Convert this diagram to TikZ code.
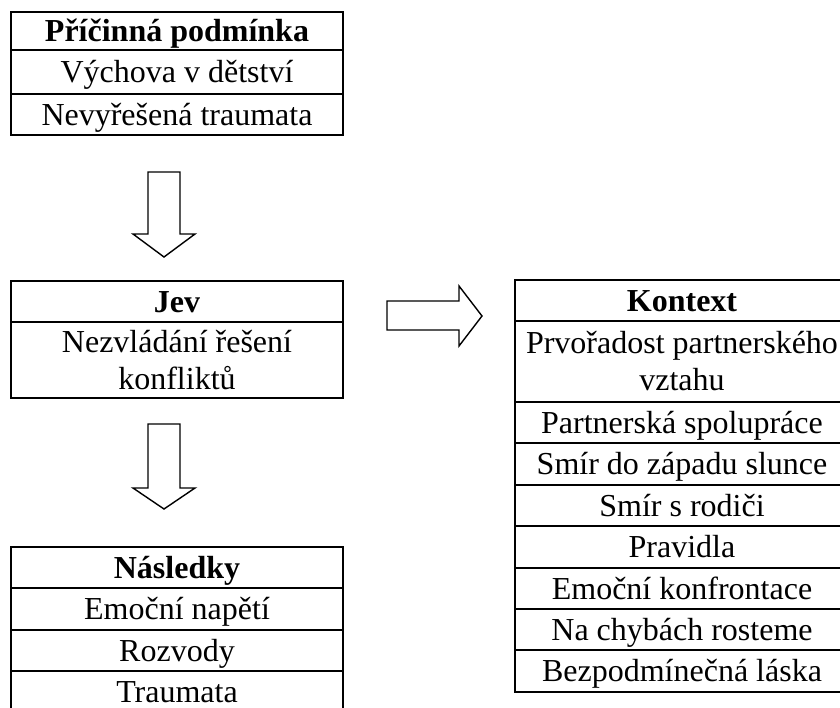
\documentclass[tikz,border=0pt]{standalone}
\usepackage{fontspec}
\setmainfont{Liberation Serif}
\usetikzlibrary{positioning}

\begin{document}
\begin{tikzpicture}[
    x=0.5pt, y=-0.5pt,
    cell/.style={draw, line width=1pt, inner sep=0pt, outer sep=0pt, minimum width=166pt, minimum height=20.5pt, text height=12pt, text depth=1.5pt, font=\fontsize{16pt}{18.5pt}\selectfont},
    head/.style={cell, font=\fontsize{16pt}{18.5pt}\selectfont\bfseries},
    tall/.style={draw, line width=1pt, inner sep=0pt, outer sep=0pt, align=center, minimum width=166pt, font=\fontsize{16pt}{18.5pt}\selectfont},
    kcell/.style={cell, minimum width=167pt},
    hollow/.style={draw, line width=0.7pt, line join=miter},
  ]
    \useasboundingbox (0,0) rectangle (840,707);
    \clip (0,0) rectangle (840,707);
    % ===== Příčinná podmínka =====
    \node[head, anchor=north west, minimum height=19pt] (pricina) at (11,12) {Příčinná podmínka};
    \node[cell, below=0pt of pricina, minimum height=22pt] (vychova) {Výchova v dětství};
    \node[cell, below=0pt of vychova] (traumaA) {Nevyřešená traumata};
    % ===== Jev =====
    \node[head, anchor=north west] (jev) at (11,281) {Jev};
    \node[tall, below=0pt of jev, minimum height=38pt] (nezvladani) {Nezvládání řešení\\konfliktů};
    % ===== Následky (dole oříznuto) =====
    \node[head, anchor=north west] (nasledky) at (11,547) {Následky};
    \node[cell, below=0pt of nasledky, minimum height=21pt] (napeti) {Emoční napětí};
    \node[cell, below=0pt of napeti] (rozvody) {Rozvody};
    \node[cell, below=0pt of rozvody] (traumaB) {Traumata};
    % ===== Kontext (vpravo oříznuto) =====
    \node[head, anchor=north west, minimum width=167pt] (kontext) at (515,280) {Kontext};
    \node[tall, below=0pt of kontext, minimum width=167pt, minimum height=40.5pt] (prvoradost) {Prvořadost partnerského\\vztahu};
    \node[kcell, below=0pt of prvoradost] (spoluprace) {Partnerská spolupráce};
    \node[kcell, below=0pt of spoluprace, minimum height=21pt] (smirZ) {Smír do západu slunce};
    \node[kcell, below=0pt of smirZ] (smirR) {Smír s rodiči};
    \node[kcell, below=0pt of smirR, minimum height=21pt] (pravidla) {Pravidla};
    \node[kcell, below=0pt of pravidla] (konfrontace) {Emoční konfrontace};
    \node[kcell, below=0pt of konfrontace] (chyby) {Na chybách rosteme};
    \node[kcell, below=0pt of chyby, minimum height=21pt] (laska) {Bezpodmínečná láska};

    % ===== duté šipky =====
    \draw[hollow] (148,172) -- (180,172) -- (180,234) -- (195,234) -- (164,257) -- (133,234) -- (148,234) -- cycle;
    \draw[hollow] (148,424) -- (180,424) -- (180,488) -- (195,488) -- (164,509) -- (133,488) -- (148,488) -- cycle;
    \draw[hollow] (387,301) -- (459,301) -- (459,286) -- (482,316) -- (459,346) -- (459,330) -- (387,330) -- cycle;
\end{tikzpicture}
\end{document}
